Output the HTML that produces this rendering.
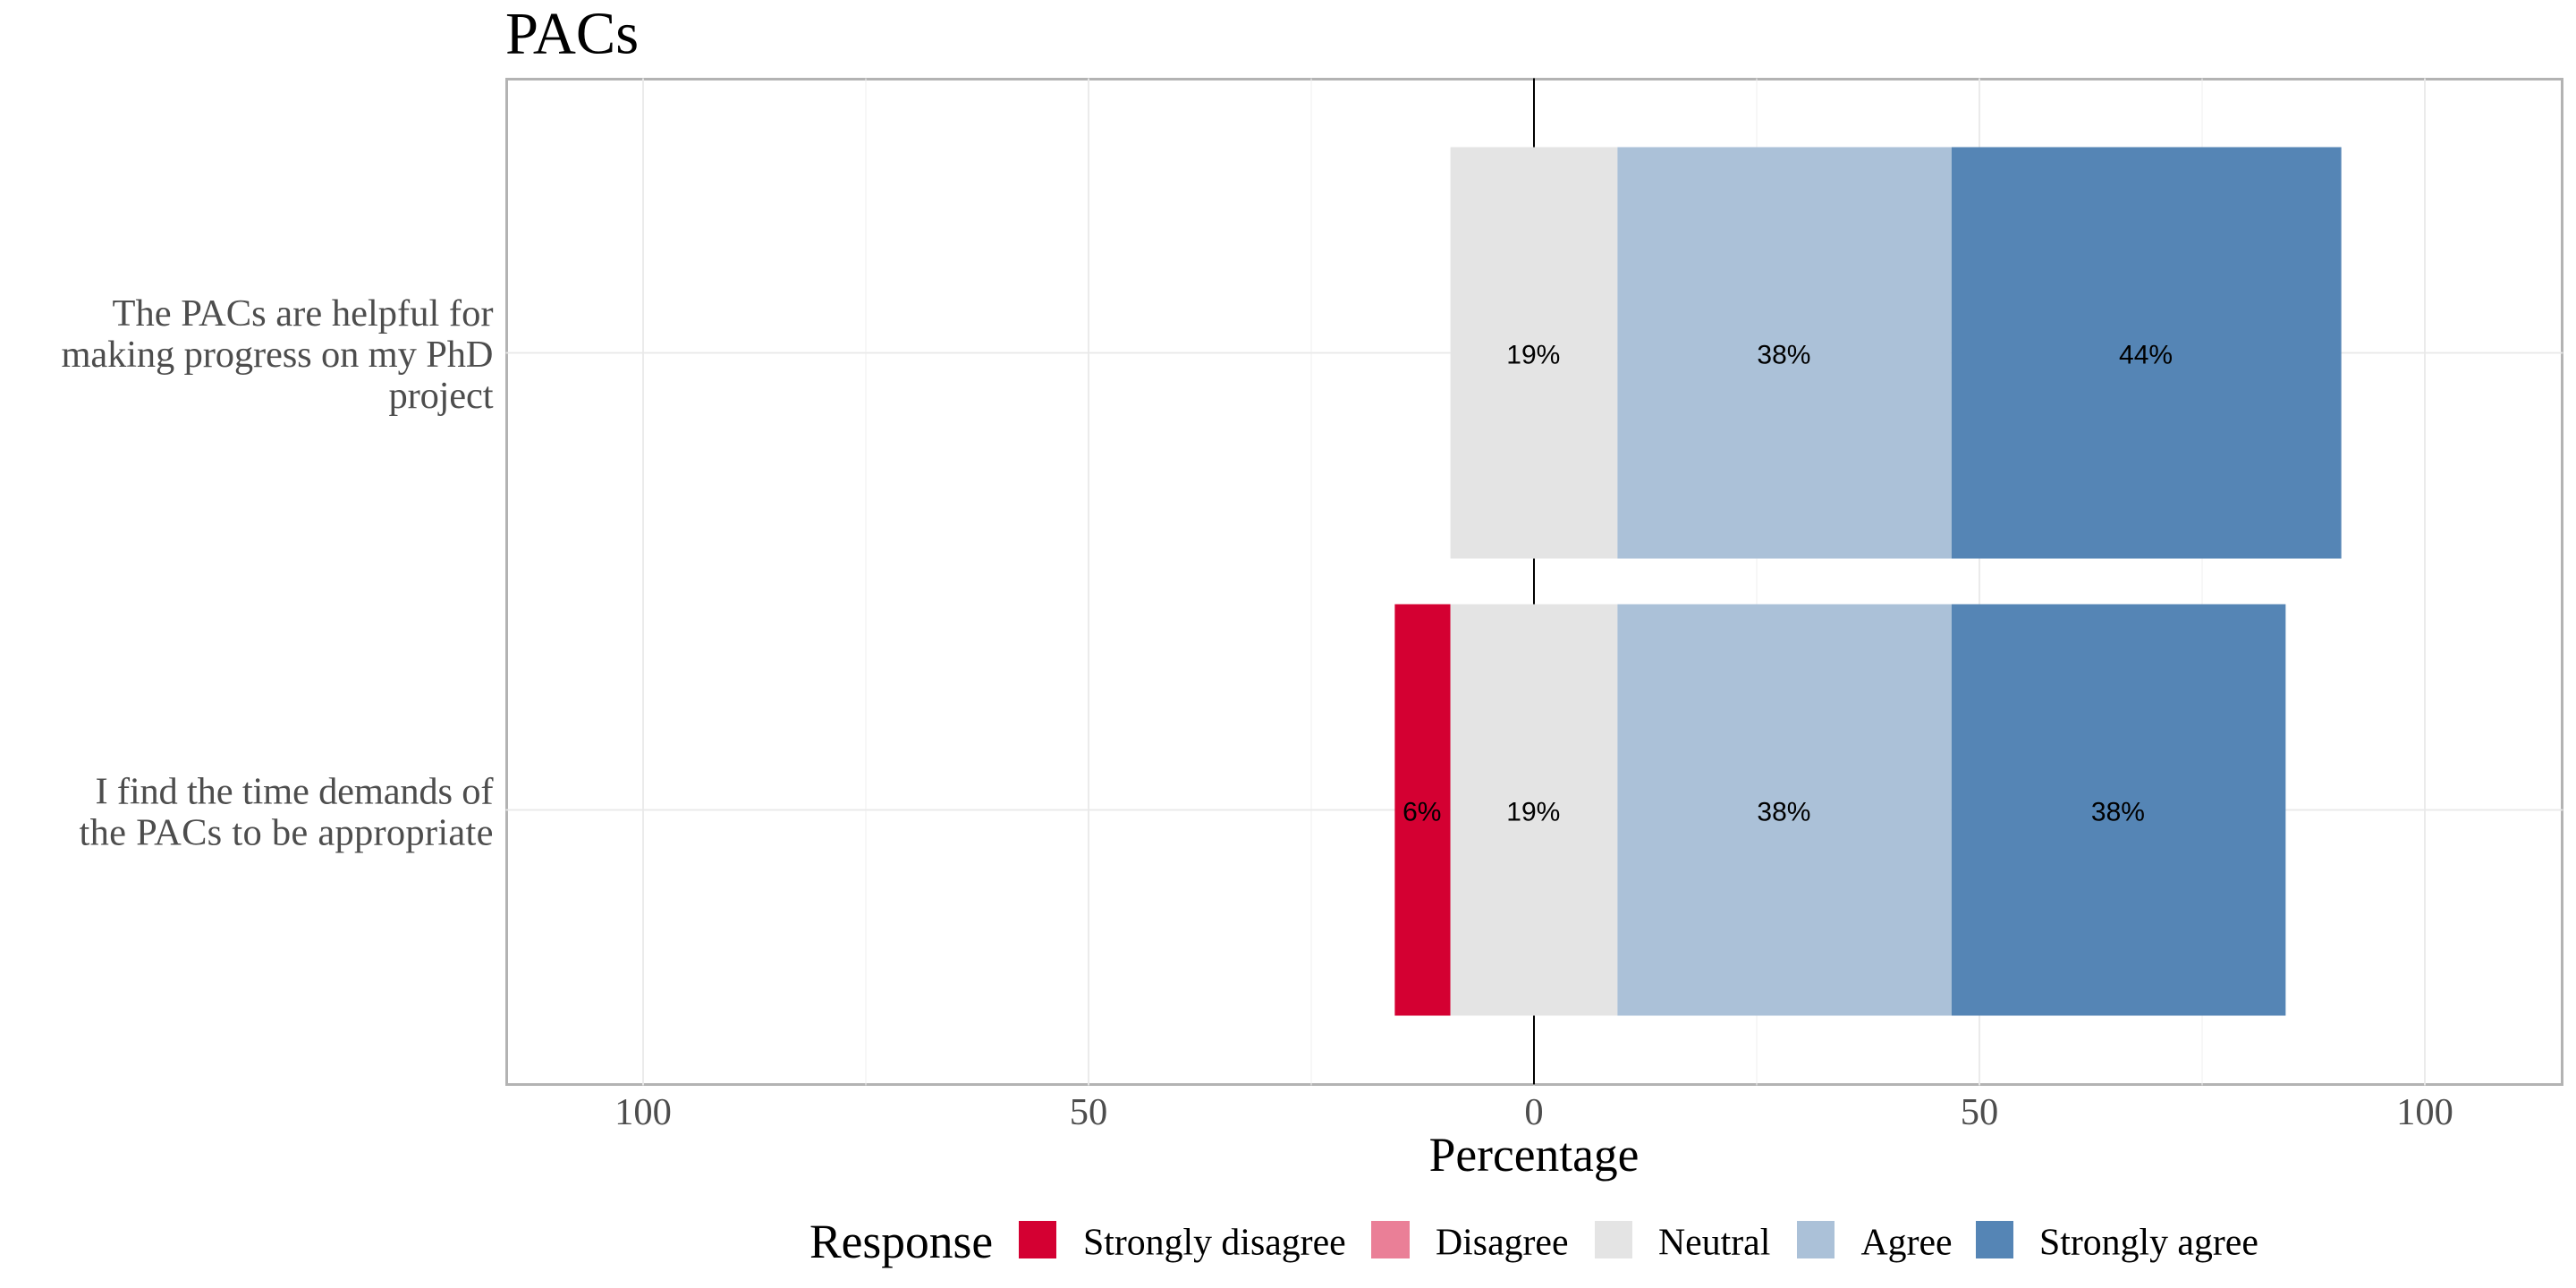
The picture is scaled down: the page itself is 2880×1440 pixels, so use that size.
<!DOCTYPE html>
<html lang="en">
<head>
<meta charset="utf-8">
<title>PACs</title>
<style>
html,body{margin:0;padding:0;background:#fff;width:2880px;height:1440px;overflow:hidden}
svg{display:block}
text{font-family:"Liberation Serif","Times New Roman",serif}
.pct{font-family:"Liberation Sans",Arial,sans-serif;font-size:30px;fill:#000;text-anchor:middle}
.tick{font-size:42.5px;fill:#4d4d4d;text-anchor:middle}
.cat{font-size:42.5px;fill:#4d4d4d;text-anchor:end}
.leg{font-size:41.8px;fill:#000}
</style>
</head>
<body>
<svg id="chart" xmlns="http://www.w3.org/2000/svg" width="2880" height="1440" viewBox="0 0 2880 1440">
  <rect x="0" y="0" width="2880" height="1440" fill="#ffffff"/>
  <text x="565" y="59.5" font-size="66.5" fill="#000">PACs</text>
  <rect x="566.5" y="88.5" width="2298" height="1124" fill="#ffffff" stroke="#b3b3b3" stroke-width="3"/>
  <g id="grid"></g>
  <g id="bars"></g>
  <g id="xticks"></g>
  <g id="ycats"></g>
  <text x="1715" y="1309" font-size="53.5" fill="#000" text-anchor="middle">Percentage</text>
  <g id="legend">
    <text x="905" y="1406" font-size="53.5" fill="#000">Response</text>
  </g>
</svg>
<script>
// Chart data
var responses = ["Strongly disagree", "Disagree", "Neutral", "Agree", "Strongly agree"];
var categoryLines = [
  ["The PACs are helpful for", "making progress on my PhD", "project"],
  ["I find the time demands of", "the PACs to be appropriate"]
];
var rowHelpful = [0, 0, 18.75, 37.5, 43.75];
var rowTime = [6.25, 0, 18.75, 37.5, 37.5];
var majorTicks = [-100, -50, 0, 50, 100];
var minorTicks = [-75, -25, 25, 75];
var rows = [rowHelpful, rowTime];
var colors = ["#d40032", "#ea7f97", "#e4e4e4", "#abc1d8", "#5585b5"];

// Axis functions
var PANEL = {left: 566.5, right: 2864.5, top: 88.5, bottom: 1212.5};
function xScale(v) { return 1715 + v * 9.96; }
function yCenter(i) { return 394.5 + i * 511; }
var BAR_HALF = 230;
var NS = "http://www.w3.org/2000/svg";
function make(tag, parent, attrs) {
  var el = document.createElementNS(NS, tag);
  for (var k in attrs) { el.setAttribute(k, attrs[k]); }
  parent.appendChild(el);
  return el;
}

// Gridlines
var grid = document.getElementById("grid");
minorTicks.forEach(function (t) {
  var l = make("line", grid, {x1: xScale(t), x2: xScale(t), y1: PANEL.top - 1, y2: PANEL.bottom + 1, stroke: "#efefef", "stroke-width": 1});
  
  
});
majorTicks.forEach(function (t) {
  var l = make("line", grid, {x1: xScale(t), x2: xScale(t), y1: PANEL.top - 1, y2: PANEL.bottom + 1, stroke: "#e9e9e9", "stroke-width": 1.8});
  
  
});
rows.forEach(function (r, i) {
  var l = make("line", grid, {x1: PANEL.left - 1, x2: PANEL.right + 1, y1: yCenter(i), y2: yCenter(i), stroke: "#e9e9e9", "stroke-width": 1.8});
  
  
});
var zero = make("line", grid, {x1: xScale(0), x2: xScale(0), y1: PANEL.top - 1, y2: PANEL.bottom, stroke: "#000", "stroke-width": 2});



// Stacked bars: centred on the middle of the neutral segment
var bars = document.getElementById("bars");
rows.forEach(function (vals, i) {
  var start = -vals[2] / 2 - vals[1] - vals[0];
  var cum = start;
  vals.forEach(function (v, s) {
    if (v > 0) {
      var r = make("rect", bars, {x: xScale(cum), y: yCenter(i) - BAR_HALF, width: xScale(cum + v) - xScale(cum), height: BAR_HALF * 2, fill: colors[s]});
      
      
    }
    cum += v;
  });
  cum = start;
  vals.forEach(function (v) {
    if (v > 0) {
      var t = make("text", bars, {"class": "pct", x: xScale(cum + v / 2) - 0.7, y: yCenter(i) + 11.8});
      t.textContent = Math.round(v) + "%";
      
      
    }
    cum += v;
  });
});

// X tick labels
var xticks = document.getElementById("xticks");
majorTicks.forEach(function (t) {
  var el = make("text", xticks, {"class": "tick", x: xScale(t), y: 1257});
  el.textContent = Math.abs(t);
  
  
});

// Y category labels (rendered widths fitted per line)
var ycats = document.getElementById("ycats");
var labelFit = [[426, 483, 117], [445, 463]];
categoryLines.forEach(function (lines, i) {
  var lineH = 46;
  var centerOffset = lines.length === 3 ? 15.5 : 16;
  var first = yCenter(i) + centerOffset - (lines.length - 1) * lineH / 2;
  lines.forEach(function (line, j) {
    var el = make("text", ycats, {"class": "cat", x: 551.5, y: first + j * lineH, textLength: labelFit[i][j], lengthAdjust: "spacing"});
    el.textContent = line;
    
    
  });
});

// Legend
var legend = document.getElementById("legend");
var legendKeyLeft = [1139, 1533, 1783, 2009, 2209];
var legendKeyRight = [1181, 1576, 1825, 2051, 2251];
var legendTextLeft = [1211, 1605, 1854, 2080.5, 2280];
responses.forEach(function (name, i) {
  var k = make("rect", legend, {x: legendKeyLeft[i], y: 1365, width: legendKeyRight[i] - legendKeyLeft[i], height: 42, fill: colors[i]});
  
  
  var t = make("text", legend, {"class": "leg", x: legendTextLeft[i], y: 1402.5});
  t.textContent = name;
  
  
});
</script>
</body>
</html>
